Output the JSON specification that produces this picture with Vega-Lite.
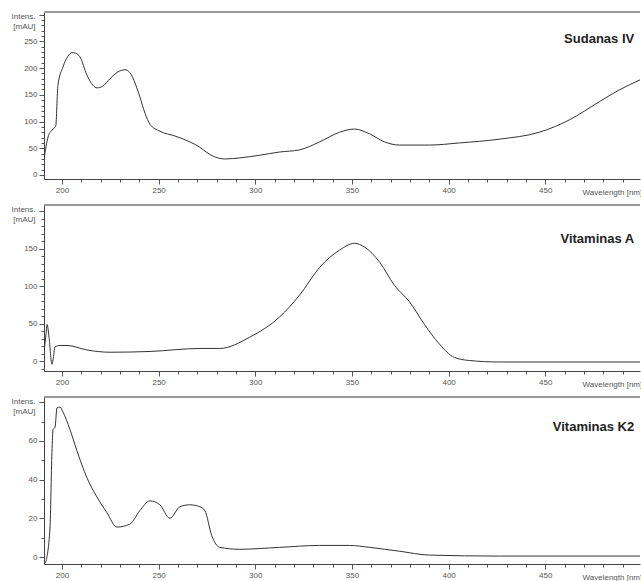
{
  "$schema": "https://vega.github.io/schema/vega-lite/v6.json",
  "padding": {"left": 10, "top": 10, "right": 0, "bottom": 0},
  "config": {
    "font": "Liberation Sans",
    "view": {"stroke": null},
    "axis": {"grid": false, "domainColor": "#444", "tickColor": "#555", "labelColor": "#555", "labelFontSize": 8, "titleFontSize": 8, "titleColor": "#555", "titleFontWeight": "normal", "labelPadding": 2, "labelOverlap": false, "labelBound": false, "labelFlush": false},
    "concat": {"spacing": 8}
  },
  "datasets": {
    "sudan": [
      {"wl": 190.7, "v": 30}, {"wl": 192.8, "v": 71}, {"wl": 194.8, "v": 84}, {"wl": 196.0, "v": 88}, {"wl": 196.8, "v": 92},
      {"wl": 197.9, "v": 168}, {"wl": 200.5, "v": 202}, {"wl": 203, "v": 222}, {"wl": 205.2, "v": 229}, {"wl": 207, "v": 228},
      {"wl": 209.3, "v": 221}, {"wl": 212.9, "v": 187}, {"wl": 216, "v": 168}, {"wl": 218.1, "v": 163}, {"wl": 221, "v": 166},
      {"wl": 224.8, "v": 180}, {"wl": 229, "v": 193}, {"wl": 232.5, "v": 197}, {"wl": 235, "v": 192}, {"wl": 238, "v": 170},
      {"wl": 240.3, "v": 146}, {"wl": 243, "v": 115}, {"wl": 245.5, "v": 95}, {"wl": 250.6, "v": 82}, {"wl": 258.4, "v": 73},
      {"wl": 266.1, "v": 62}, {"wl": 271.3, "v": 52}, {"wl": 275, "v": 42}, {"wl": 279, "v": 34}, {"wl": 284.2, "v": 30},
      {"wl": 292, "v": 32}, {"wl": 302.3, "v": 37}, {"wl": 312.6, "v": 43}, {"wl": 322.9, "v": 47}, {"wl": 333.3, "v": 62},
      {"wl": 343.6, "v": 80}, {"wl": 351.3, "v": 86}, {"wl": 359.1, "v": 77}, {"wl": 366.8, "v": 62}, {"wl": 374.6, "v": 56},
      {"wl": 390.1, "v": 56}, {"wl": 405.6, "v": 60}, {"wl": 426.2, "v": 67}, {"wl": 446.9, "v": 80}, {"wl": 462.4, "v": 103},
      {"wl": 477.9, "v": 137}, {"wl": 488.2, "v": 159}, {"wl": 499, "v": 178}
    ],
    "vita": [
      {"wl": 190.7, "v": 12}, {"wl": 191.7, "v": 35}, {"wl": 192.3, "v": 49}, {"wl": 193.3, "v": 32}, {"wl": 194.8, "v": -4},
      {"wl": 195.4, "v": 2}, {"wl": 196.4, "v": 19}, {"wl": 199, "v": 21}, {"wl": 202.6, "v": 21}, {"wl": 212.9, "v": 15},
      {"wl": 224.8, "v": 12}, {"wl": 245.5, "v": 13}, {"wl": 271.3, "v": 17}, {"wl": 281.6, "v": 17}, {"wl": 297.1, "v": 32},
      {"wl": 312.6, "v": 59}, {"wl": 322.9, "v": 88}, {"wl": 333.3, "v": 125}, {"wl": 343.6, "v": 148}, {"wl": 351.3, "v": 157},
      {"wl": 356.5, "v": 152}, {"wl": 364.3, "v": 132}, {"wl": 372, "v": 101}, {"wl": 379.8, "v": 79}, {"wl": 387.5, "v": 49},
      {"wl": 395.2, "v": 23}, {"wl": 403, "v": 5}, {"wl": 410.7, "v": 1}, {"wl": 426.2, "v": -1}, {"wl": 499, "v": -1}
    ],
    "vitk": [
      {"wl": 191.5, "v": -3}, {"wl": 193.8, "v": 15}, {"wl": 194.8, "v": 54}, {"wl": 195.4, "v": 66}, {"wl": 196.4, "v": 67},
      {"wl": 197.4, "v": 77}, {"wl": 199, "v": 77.5}, {"wl": 200.5, "v": 75}, {"wl": 204.1, "v": 66}, {"wl": 207.7, "v": 55},
      {"wl": 212.9, "v": 41}, {"wl": 218.1, "v": 31}, {"wl": 223.2, "v": 23}, {"wl": 228.4, "v": 15.5}, {"wl": 235.1, "v": 17},
      {"wl": 240.3, "v": 24}, {"wl": 245.5, "v": 29}, {"wl": 250.6, "v": 27}, {"wl": 255.8, "v": 20}, {"wl": 261, "v": 26},
      {"wl": 266.1, "v": 27}, {"wl": 271.3, "v": 26}, {"wl": 273.9, "v": 24}, {"wl": 277.5, "v": 11}, {"wl": 281.6, "v": 5},
      {"wl": 292, "v": 4}, {"wl": 312.6, "v": 5}, {"wl": 333.3, "v": 6}, {"wl": 348.8, "v": 6}, {"wl": 359.1, "v": 5},
      {"wl": 374.6, "v": 3}, {"wl": 390.1, "v": 1}, {"wl": 426.2, "v": 0.5}, {"wl": 499, "v": 0.5}
    ]
  },
  "vconcat": [
    {
      "width": 596, "height": 167,
      "layer": [
        {
          "data": {"name": "sudan"},
          "mark": {"type": "line", "color": "#333", "strokeWidth": 1, "clip": true, "interpolate": "monotone"},
          "encoding": {
            "x": {"field": "wl", "type": "quantitative", "scale": {"domain": [190.7, 499], "nice": false, "zero": false},
              "axis": {"tickCount": 31,
                "labelOverlap": false, "labelExpr": "datum.value % 50 === 0 ? datum.label : ''", "tickSize": {"condition": {"test": "datum.value % 50 === 0", "value": 5}, "value": 3},
                "title": "Wavelength [nm]", "titleX": 538, "titleY": 13, "titleAlign": "left", "titleBaseline": "middle", "titleAnchor": null}},
            "y": {"field": "v", "type": "quantitative", "scale": {"domain": [-7.5, 305], "nice": false, "zero": false},
              "axis": {"tickCount": 31,
                "labelOverlap": false, "labelExpr": "datum.value % 50 === 0 && datum.value < 300 ? datum.label : ''", "tickSize": {"condition": {"test": "datum.value % 50 === 0", "value": 5}, "value": 3},
                "title": ["Intens.", "[mAU]"], "titleAngle": 0, "titleAlign": "right", "titleBaseline": "top", "titleX": -9, "titleY": 0, "titleAnchor": null}}
          }
        },
        {"mark": {"type": "rule", "color": "#999", "strokeWidth": 2}, "data": {"values": [{}]}, "encoding": {"y": {"datum": 305, "type": "quantitative"}}},
        {"data": {"values": [{}]}, "mark": {"type": "text", "fontWeight": "bold", "fontSize": 13, "align": "right", "baseline": "middle", "color": "#222"},
          "encoding": {"x": {"datum": 496, "type": "quantitative"}, "y": {"datum": 255, "type": "quantitative"}, "text": {"value": "Sudanas IV"}}}
      ]
    },
    {
      "width": 596, "height": 166,
      "layer": [
        {
          "data": {"name": "vita"},
          "mark": {"type": "line", "color": "#333", "strokeWidth": 1, "clip": true, "interpolate": "monotone"},
          "encoding": {
            "x": {"field": "wl", "type": "quantitative", "scale": {"domain": [190.7, 499], "nice": false, "zero": false},
              "axis": {"tickCount": 31,
                "labelOverlap": false, "labelExpr": "datum.value % 50 === 0 ? datum.label : ''", "tickSize": {"condition": {"test": "datum.value % 50 === 0", "value": 5}, "value": 3},
                "title": "Wavelength [nm]", "titleX": 538, "titleY": 13, "titleAlign": "left", "titleBaseline": "middle", "titleAnchor": null}},
            "y": {"field": "v", "type": "quantitative", "scale": {"domain": [-13, 208], "nice": false, "zero": false},
              "axis": {"tickCount": 22,
                "labelOverlap": false, "labelExpr": "datum.value % 50 === 0 && datum.value < 200 ? datum.label : ''", "tickSize": {"condition": {"test": "datum.value % 50 === 0", "value": 5}, "value": 3},
                "title": ["Intens.", "[mAU]"], "titleAngle": 0, "titleAlign": "right", "titleBaseline": "top", "titleX": -9, "titleY": 0, "titleAnchor": null}}
          }
        },
        {"mark": {"type": "rule", "color": "#999", "strokeWidth": 2}, "data": {"values": [{}]}, "encoding": {"y": {"datum": 208, "type": "quantitative"}}},
        {"data": {"values": [{}]}, "mark": {"type": "text", "fontWeight": "bold", "fontSize": 13, "align": "right", "baseline": "middle", "color": "#222"},
          "encoding": {"x": {"datum": 496, "type": "quantitative"}, "y": {"datum": 163, "type": "quantitative"}, "text": {"value": "Vitaminas A"}}}
      ]
    },
    {
      "width": 596, "height": 167,
      "layer": [
        {
          "data": {"name": "vitk"},
          "mark": {"type": "line", "color": "#333", "strokeWidth": 1, "clip": true, "interpolate": "monotone"},
          "encoding": {
            "x": {"field": "wl", "type": "quantitative", "scale": {"domain": [190.7, 499], "nice": false, "zero": false},
              "axis": {"tickCount": 31,
                "labelOverlap": false, "labelExpr": "datum.value % 50 === 0 ? datum.label : ''", "tickSize": {"condition": {"test": "datum.value % 50 === 0", "value": 5}, "value": 3},
                "title": "Wavelength [nm]", "titleX": 538, "titleY": 13, "titleAlign": "left", "titleBaseline": "middle", "titleAnchor": null}},
            "y": {"field": "v", "type": "quantitative", "scale": {"domain": [-3.6, 82.7], "nice": false, "zero": false},
              "axis": {"tickCount": 9,
                "labelOverlap": false, "labelExpr": "datum.value % 20 === 0 && datum.value < 80 ? datum.label : ''", "tickSize": {"condition": {"test": "datum.value % 20 === 0", "value": 5}, "value": 3},
                "title": ["Intens.", "[mAU]"], "titleAngle": 0, "titleAlign": "right", "titleBaseline": "top", "titleX": -9, "titleY": 0, "titleAnchor": null}}
          }
        },
        {"mark": {"type": "rule", "color": "#999", "strokeWidth": 2}, "data": {"values": [{}]}, "encoding": {"y": {"datum": 82.7, "type": "quantitative"}}},
        {"data": {"values": [{}]}, "mark": {"type": "text", "fontWeight": "bold", "fontSize": 13, "align": "right", "baseline": "middle", "color": "#222"},
          "encoding": {"x": {"datum": 496, "type": "quantitative"}, "y": {"datum": 67, "type": "quantitative"}, "text": {"value": "Vitaminas K2"}}}
      ]
    }
  ]
}
